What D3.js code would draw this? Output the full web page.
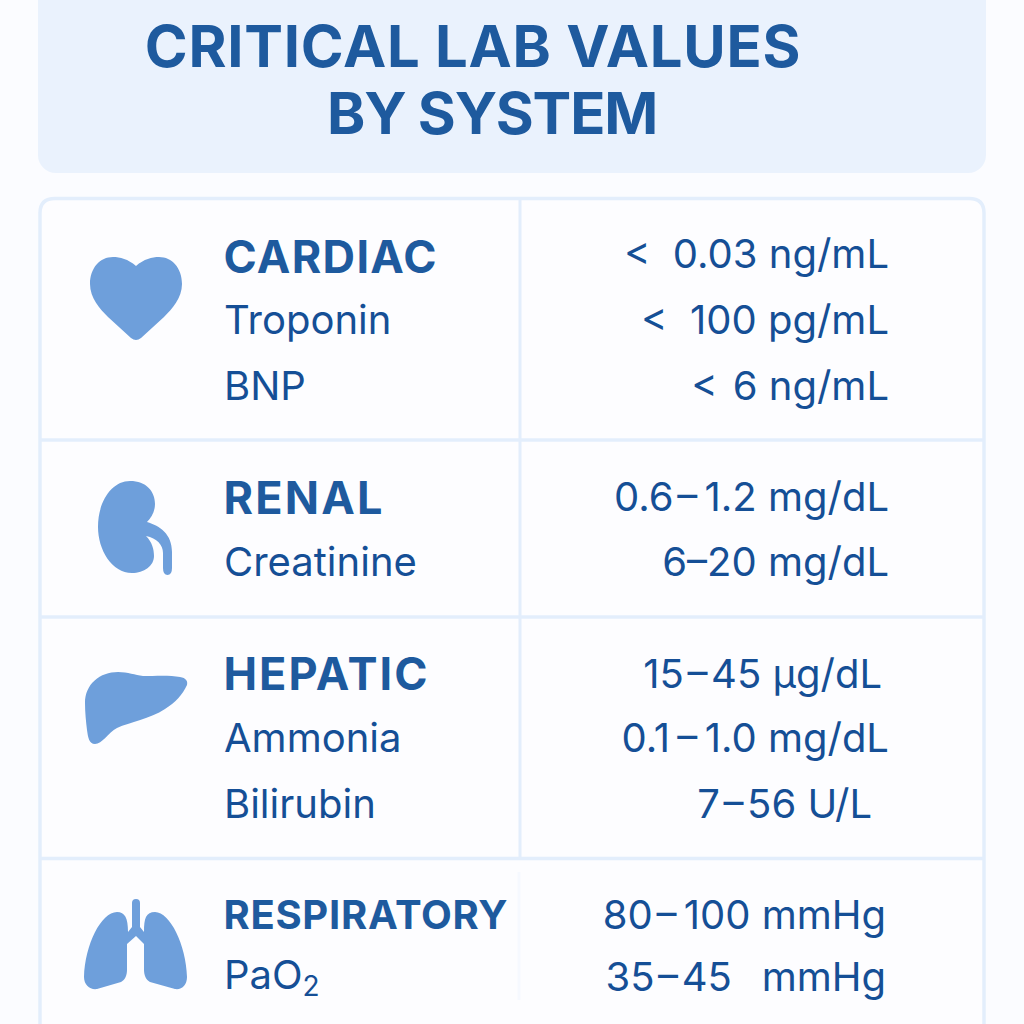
<!DOCTYPE html>
<html>
<head>
<meta charset="utf-8">
<script src="https://cdn.jsdelivr.net/npm/d3@7"></script>
<style>
  html, body { margin: 0; padding: 0; background: #fbfcff; }
  svg { display: block; }
  text { font-family: Inter, "Noto Sans", sans-serif; white-space: pre; }
</style>
</head>
<body>
<svg id="chart" width="1024" height="1024"></svg>
<script>
// chart values
const titleLines = ['CRITICAL LAB VALUES', 'BY SYSTEM'];
const systems = ['CARDIAC', 'RENAL', 'HEPATIC', 'RESPIRATORY'];
const analytes = [['Troponin', 'BNP'], ['Creatinine'], ['Ammonia', 'Bilirubin'], ['PaO₂']];
const ranges = [
    ['<  0.03 ng/mL', '<  100 pg/mL', '< \u200A6 ng/mL'],
    ['0.6\u200A–\u200A\u200A1.2 mg/dL', '6–20 mg/dL'],
    ['15\u200A–\u200A45 µg/dL', '0.1\u200A\u200A–\u200A\u200A1.0 mg/dL', '7\u200A–\u200A56 U/L'],
    ['80\u200A–\u200A\u200A100 mmHg', '35\u200A–\u200A45  \u2009mmHg']
];

// layout, kept apart from the values
const darkBlue = '#1e5a9e',
      textBlue = '#154f96',
      lineBlue = '#e3eefc',
      iconBlue = '#6e9fdb';

const rowTop = d3.scaleOrdinal().domain(systems).range([198, 440, 617, 858.5]);
const nameBase = [[75, 136, 202], [74, 136], [73, 135, 201], [70.5, 130.5]];
const rangeBase = [[70, 136, 202], [71, 136], [71, 135, 201], [70.5, 132.5]];
const rangeEnd = [[889, 889, 889], [889, 889], [882, 889, 872], [886, 886]];
const nameSize = [45, 45, 45, 40];
const nameSpacing = [1.3, 2.2, 2, 0.7];

const svg = d3.select('#chart');

// title box runs off the top of the page
svg.append('rect')
    .attr('x', 38).attr('y', -30)
    .attr('width', 948).attr('height', 203)
    .attr('rx', 18)
    .attr('fill', '#eaf2fd');

svg.selectAll('.title')
    .data(titleLines)
    .enter()
    .append('text')
        .classed('title', true)
        .attr('x', (d, i) => i == 0 ? 473 : 492)
        .attr('y', (d, i) => i == 0 ? 67 : 134)
        .attr('text-anchor', 'middle')
        .attr('font-size', 58)
        .attr('font-weight', 700)
        .attr('letter-spacing', (d, i) => i == 0 ? 0.75 : -1.2)
        .attr('fill', darkBlue)
        .text(d => d);

// table frame, open at the bottom
const frame = d3.path();
frame.moveTo(40, 1030);
frame.lineTo(40, 213);
frame.quadraticCurveTo(40, 198.5, 55, 198.5);
frame.lineTo(969, 198.5);
frame.quadraticCurveTo(984, 198.5, 984, 213);
frame.lineTo(984, 1030);

svg.append('path')
    .attr('d', frame.toString())
    .attr('fill', '#fdfdff')
    .attr('stroke', lineBlue)
    .attr('stroke-width', 3.5);

svg.append('line')
    .attr('x1', 520).attr('x2', 520)
    .attr('y1', 198).attr('y2', 858)
    .attr('stroke', lineBlue)
    .attr('stroke-width', 3);

// the divider almost disappears in the last row
svg.append('line')
    .attr('x1', 519).attr('x2', 519)
    .attr('y1', 872).attr('y2', 1000)
    .attr('stroke', '#f6f9ff')
    .attr('stroke-width', 3);

svg.selectAll('.rowLine')
    .data(systems.slice(1))
    .enter()
    .append('line')
        .classed('rowLine', true)
        .attr('x1', 40).attr('x2', 984)
        .attr('y1', d => rowTop(d))
        .attr('y2', d => rowTop(d))
        .attr('stroke', lineBlue)
        .attr('stroke-width', 3.5);

// organ icons
const icons = [
    'M136 266 C128 259 120 257 113 257 C100 257 90 268 90 284 C90 298 100 309 108 317 L131 338 Q136 342 141 338 L164 317 C172 309 182 298 182 284 C182 268 172 257 159 257 C152 257 144 259 136 266Z',
    'M130 481 C146 481 155 491 155 504 C155 512 151 518 147 522 C160 526 172 534 172 552 L172 568 Q172 575 167.5 575 Q163 575 163 568 L163 553 C163 545 157 538 146 536 C152 542 154 549 154 556 C154 566 144 573 132 573 C112 573 98 550 98 527 C98 501 112 481 130 481Z',
    'M85 703 C85 684 100 672 118 672 C128 672 135 675 143 676 C155 676 170 675 180 677 C186 678 188 681 187 685 C183 694 175 703 165 709 C150 719 130 722 117 728 C108 733 102 744 95 744 C89 744 88 737 87 730 C86 722 85 712 85 703Z',
    'M132 903 Q132 899 136 899 Q140 899 140 903 L140 927 L144 932 C144 918 146 912 155 912 C170 912 186 945 187 977 C187 985 182 990 175 989 L150 982 C146 980 144 975 144 970 L144 944 L136 936 L127 944 L127 970 C127 975 125 980 121 982 L97 989 C90 990 84 985 84 977 C85 945 101 912 117 912 C125 912 128 918 128 932 L132 927Z'
];

svg.selectAll('.icon')
    .data(icons)
    .enter()
    .append('path')
        .classed('icon', true)
        .attr('d', d => d)
        .attr('fill', iconBlue);

// one group per system row
const row = svg.selectAll('.row')
    .data(systems)
    .enter()
    .append('g')
        .classed('row', true)
        .attr('transform', d => `translate(0,${rowTop(d)})`);

row.append('text')
    .attr('x', 223.5)
    .attr('y', (d, i) => nameBase[i][0])
    .attr('font-size', (d, i) => nameSize[i])
    .attr('letter-spacing', (d, i) => nameSpacing[i])
    .attr('font-weight', 700)
    .attr('fill', darkBlue)
    .text(d => d);

row.each(function(d, i) {
    const g = d3.select(this);

    g.selectAll('.analyte')
        .data(analytes[i])
        .enter()
        .append('text')
            .classed('analyte', true)
            .attr('x', 224)
            .attr('y', (a, j) => nameBase[i][j + 1])
            .attr('font-size', 40)
            .attr('fill', textBlue)
            .each(function(a) {
                // the subscript in the picture is larger than the font's own glyph
                const t = d3.select(this);
                if (a.endsWith('₂')) {
                    t.append('tspan').text(a.slice(0, -1));
                    t.append('tspan').attr('dy', 7).attr('font-size', 28).text('2');
                } else {
                    t.text(a);
                }
            });

    g.selectAll('.range')
        .data(ranges[i])
        .enter()
        .append('text')
            .classed('range', true)
            .attr('x', (r, j) => rangeEnd[i][j])
            .attr('y', (r, j) => rangeBase[i][j])
            .attr('text-anchor', 'end')
            .attr('font-size', 40)
            .attr('fill', textBlue)
            .text(r => r);
});
</script>
</body>
</html>
